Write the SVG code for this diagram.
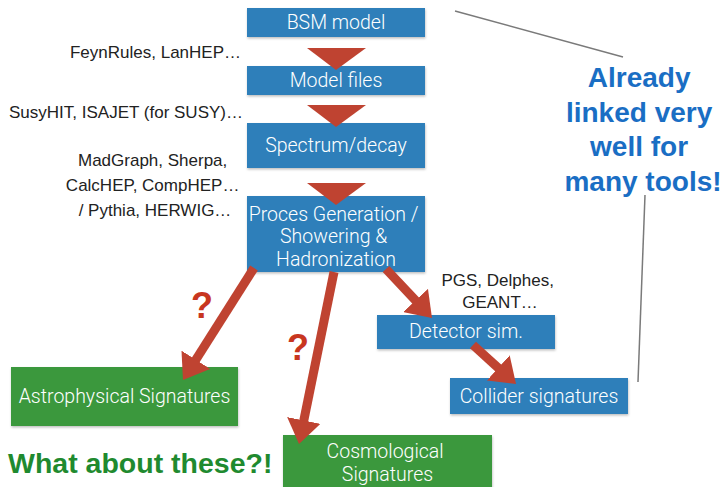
<svg xmlns="http://www.w3.org/2000/svg" width="725" height="487" viewBox="0 0 725 487">
  <style>
    .blue { fill: #2f7fba; }
    .green { fill: #3a983d; }
    .box { filter: url(#shadow); }
    .label { font-family: Roboto, "Liberation Sans", sans-serif; font-weight: 300; font-size: 19.5px; fill: #ffffff; text-anchor: middle; }
    .note { font-family: "Liberation Sans", Arial, sans-serif; font-size: 17px; fill: #222222; }
    .tri { fill: #bf4331; }
    .arrow { stroke: #bf4331; stroke-width: 9; fill: none; marker-end: url(#head); }
    .guide { stroke: #7a7a7a; stroke-width: 1.5; fill: none; }
    .ask { font-family: "Liberation Sans", Arial, sans-serif; font-weight: bold; font-size: 36px; fill: #c8361f; text-anchor: middle; }
    .linked { font-family: "Liberation Sans", Arial, sans-serif; font-weight: bold; font-size: 28px; fill: #1a6ec4; text-anchor: middle; }
    .what { font-family: "Liberation Sans", Arial, sans-serif; font-weight: bold; font-size: 28.5px; fill: #1f8a2f; }
  </style>
  <defs>
    <filter id="shadow" x="-10%" y="-20%" width="120%" height="150%">
      <feDropShadow dx="0.5" dy="1.5" stdDeviation="1.2" flood-color="#000" flood-opacity="0.25"/>
    </filter>
    <marker id="head" viewBox="0 0 24 34" refX="4" refY="17" markerWidth="24" markerHeight="34" markerUnits="userSpaceOnUse" orient="auto">
      <path d="M0,0 L24,17 L0,34 z" fill="#bf4331"/>
    </marker>
  </defs>

  <rect width="725" height="487" fill="#ffffff"/>

  <!-- thin guide lines from the callout -->
  <g id="guides">
    <line class="guide" x1="455" y1="11" x2="623" y2="57"/>
    <line class="guide" x1="645" y1="195" x2="638" y2="382"/>
  </g>

  <!-- tool annotations -->
  <g id="notes">
    <text class="note" x="241" y="58" text-anchor="end">FeynRules, LanHEP…</text>
    <text class="note" x="243" y="118" text-anchor="end">SusyHIT, ISAJET (for SUSY)…</text>
    <text class="note" x="155" text-anchor="middle">
      <tspan x="155" y="166">MadGraph, Sherpa,</tspan>
      <tspan x="155" y="191">CalcHEP, CompHEP…</tspan>
      <tspan x="155" y="216">/ Pythia, HERWIG…</tspan>
    </text>
    <text class="note" x="500" text-anchor="middle">
      <tspan x="500" y="286">PGS, Delphes,</tspan>
      <tspan x="500" y="308">GEANT…</tspan>
    </text>
  </g>

  <!-- chain of blue steps -->
  <g id="bsm-model">
    <rect class="box blue" x="247" y="8" width="178" height="29"/>
    <text class="label" x="336" y="29">BSM model</text>
  </g>
  <g id="model-files">
    <rect class="box blue" x="247" y="66" width="178" height="29"/>
    <text class="label" x="336" y="87">Model files</text>
  </g>
  <g id="spectrum-decay">
    <rect class="box blue" x="247" y="123" width="178" height="45"/>
    <text class="label" x="336" y="152">Spectrum/decay</text>
  </g>
  <g id="process-generation">
    <rect class="box blue" x="247" y="196" width="178" height="76"/>
    <text class="label" x="336">
      <tspan x="336" y="221">Proces Generation /</tspan>
      <tspan x="336" y="243">Showering &amp;</tspan>
      <tspan x="336" y="266">Hadronization</tspan>
    </text>
  </g>
  <g id="detector-sim">
    <rect class="box blue" x="377" y="315" width="178" height="34"/>
    <text class="label" x="466" y="338">Detector sim.</text>
  </g>
  <g id="collider-signatures">
    <rect class="box blue" x="450" y="378" width="178" height="36"/>
    <text class="label" x="539" y="403">Collider signatures</text>
  </g>

  <!-- green targets -->
  <g id="astrophysical-signatures">
    <rect class="box green" x="11" y="367" width="227" height="59"/>
    <text class="label" x="124.5" y="403">Astrophysical Signatures</text>
  </g>
  <g id="cosmological-signatures">
    <rect class="box green" x="283" y="435" width="209" height="60"/>
    <text class="label" x="387.5">
      <tspan x="387.5" y="458">Cosmological</tspan>
      <tspan x="387.5" y="481">Signatures</tspan>
    </text>
  </g>

  <!-- connectors -->
  <g id="connectors">
    <polygon class="tri" points="307,48 366,48 336,70"/>
    <polygon class="tri" points="307,105 366,105 336,127"/>
    <polygon class="tri" points="307,183 366,183 336,205"/>
    <line class="arrow" x1="254" y1="268" x2="193.7" y2="363.1"/>
    <line class="arrow" x1="334" y1="272" x2="303" y2="424.4"/>
    <line class="arrow" x1="386" y1="269" x2="418.3" y2="303.4"/>
    <line class="arrow" x1="473" y1="345" x2="501.2" y2="370.6"/>
  </g>

  <!-- question marks -->
  <g id="questions">
    <text class="ask" x="202" y="318">?</text>
    <text class="ask" x="298" y="360">?</text>
  </g>

  <!-- callouts -->
  <g id="callout-linked">
    <text class="linked">
      <tspan x="643" y="87">Already</tspan>
      <tspan x="643" y="122">linked very</tspan>
      <tspan x="643" y="156">well for</tspan>
      <tspan x="643" y="191">many tools!</tspan>
    </text>
  </g>
  <g id="callout-what">
    <text class="what" x="8" y="473">What about these?!</text>
  </g>
</svg>
